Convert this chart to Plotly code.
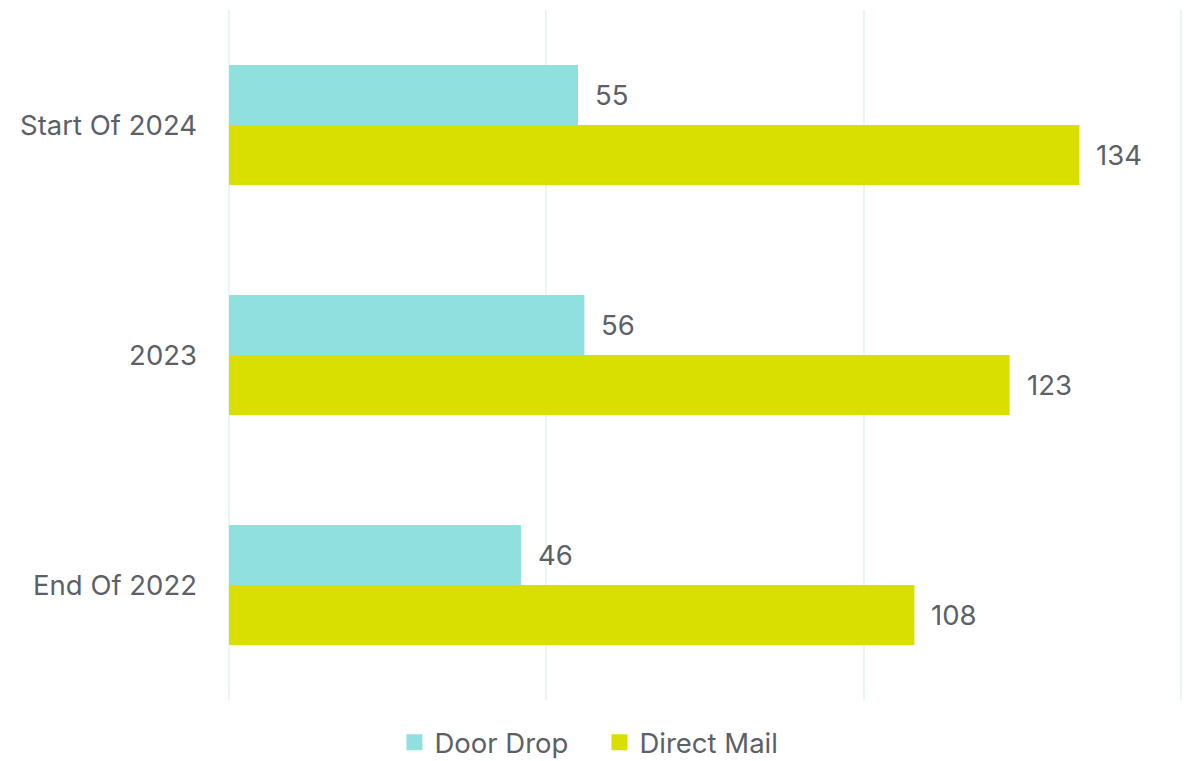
import plotly.graph_objects as go

categories = ["Start Of 2024", "2023", "End Of 2022"]
door_drop = [55, 56, 46]
direct_mail = [134, 123, 108]
series_names = ["Door Drop", "Direct Mail"]
colors = ["#91E0E0", "#D9DF00"]
x_ticks = [0, 50, 100, 150]

FONT = "Inter, Open Sans, sans-serif"
TXT = "#5B6166"
FS = 27.5

fig = go.Figure()
for name, vals, col in zip(series_names, [door_drop, direct_mail], colors):
    fig.add_trace(go.Bar(y=categories, x=vals, orientation="h", name=name,
                         marker=dict(color=col, line=dict(width=0)),
                         showlegend=False, hoverinfo="x+y"))
    fig.add_trace(go.Scatter(x=[None], y=[None], mode="markers", name=name,
                             marker=dict(symbol="square", size=19, color=col)))

bar_w = 0.26
for si, vals in enumerate([door_drop, direct_mail]):
    off = -bar_w / 2 if si == 0 else bar_w / 2
    for ci, v in enumerate(vals):
        fig.add_annotation(x=v, y=ci + off, text=str(v), showarrow=False,
                           xanchor="left", yanchor="middle", xshift=15,
                           font=dict(family=FONT, size=FS, color=TXT))

fig.update_layout(
    width=1187, height=761,
    margin=dict(l=228, r=4, t=10, b=61),
    paper_bgcolor="white", plot_bgcolor="white",
    barmode="group", bargap=0.478, bargroupgap=0,
    font=dict(family=FONT, size=FS, color=TXT),
    legend=dict(orientation="h", xref="container", x=0.505, xanchor="center",
                yref="container", y=0.0245, yanchor="middle",
                font=dict(family=FONT, size=FS, color=TXT),
                itemwidth=30, entrywidth=160, tracegroupgap=0),
    xaxis=dict(range=[-0.16, 150.32], tickvals=x_ticks, showticklabels=False,
               showgrid=True, gridcolor="#EAF6F6", gridwidth=2,
               zeroline=False, showline=False),
    yaxis=dict(autorange="reversed", showgrid=False, zeroline=False,
               ticks="", ticklabelstandoff=30,
               tickfont=dict(family=FONT, size=FS, color=TXT)),
)
fig.write_html("out.html", config={"displayModeBar": False},
               post_script="document.body.style.margin='0';document.body.style.overflow='hidden';")
